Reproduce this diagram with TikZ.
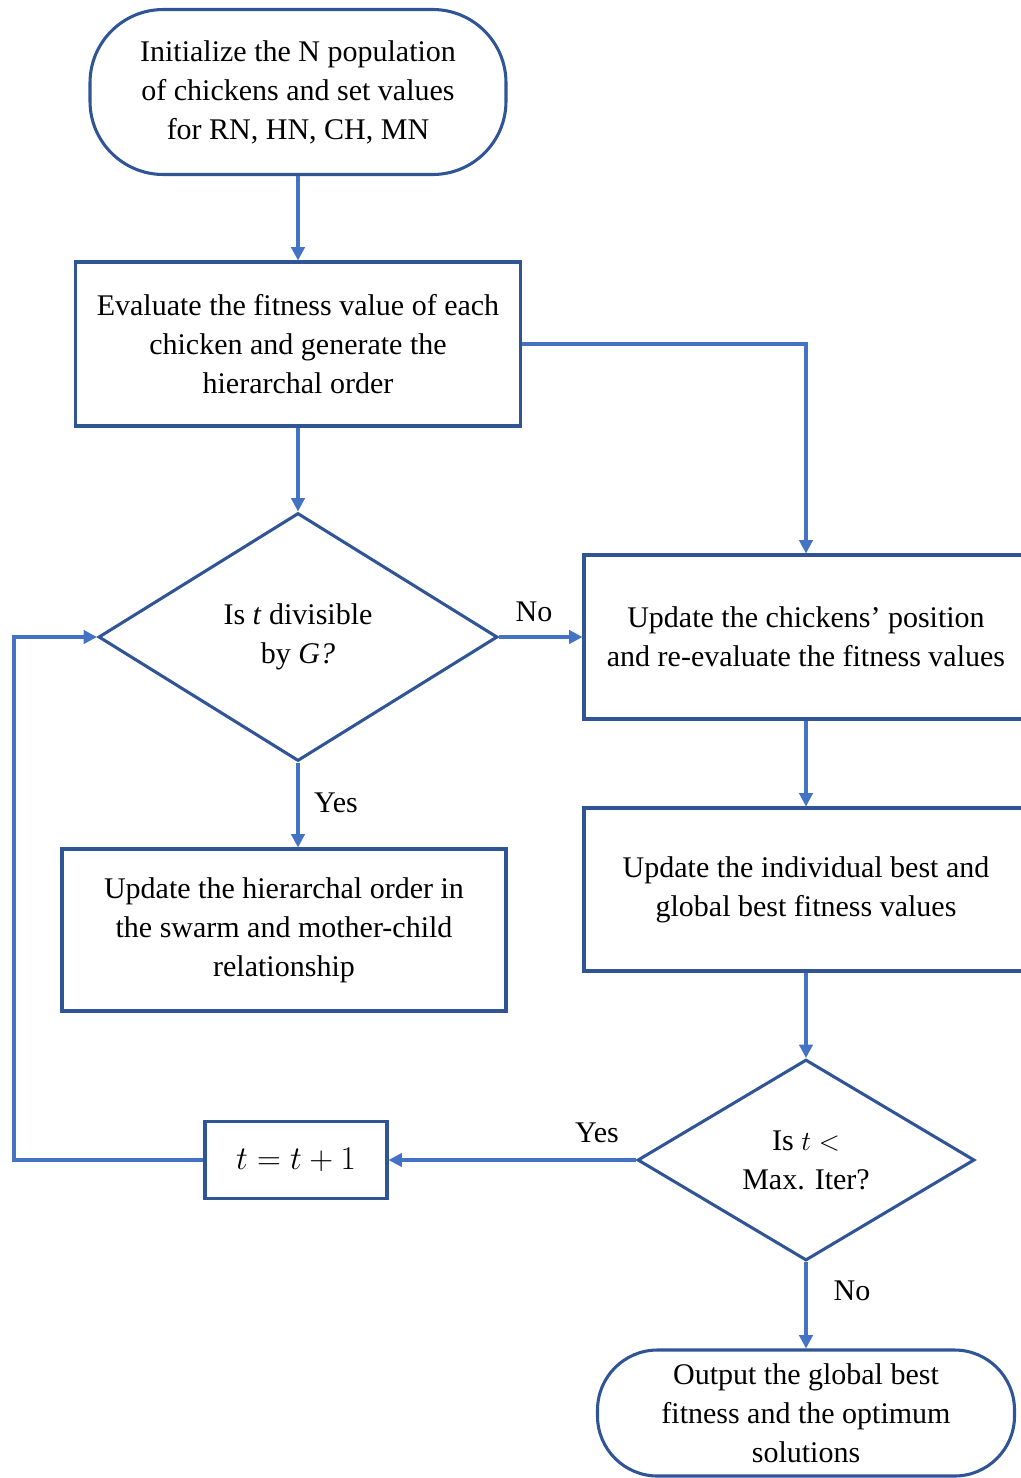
\documentclass[tikz,border=0pt]{standalone}
\usepackage{fontspec}
\setmainfont{Liberation Serif}
\usetikzlibrary{arrows.meta,shapes.geometric}

\definecolor{boxblue}{RGB}{47,85,151}
\definecolor{lineblue}{RGB}{68,114,196}

\tikzset{
  flowtext/.style={font=\fontsize{22.5pt}{29.25pt}\selectfont, align=center, inner sep=0pt},
  terminal/.style={flowtext, draw=boxblue, line width=2.3pt, rectangle, rounded corners=#1},
  procbox/.style={flowtext, draw=boxblue, line width=2.3pt, rectangle},
  decision/.style={flowtext, draw=boxblue, line width=2.3pt, diamond, aspect=1.6},
  flowline/.style={draw=lineblue, line width=2.3pt},
  flowarrow/.style={flowline, -{Triangle[length=10pt,width=10pt]}},
  answer/.style={font=\fontsize{22.5pt}{29.25pt}\selectfont, inner sep=0pt}
}

\begin{document}
\begin{tikzpicture}[x=0.75pt,y=0.75pt,yscale=-1,xscale=1]
\useasboundingbox (0,0) rectangle (1021,1478);

% Start
\node (init) [terminal=55pt, minimum width=312pt, minimum height=123.75pt] at (298,92)
  {Initialize the N population\\of chickens and set values\\for RN, HN, CH, MN};
% Process boxes
\node (eval) [procbox, minimum width=333.75pt, minimum height=123pt] at (298,344)
  {Evaluate the fitness value of each\\chicken and generate the\\hierarchal order};
\node (upd) [procbox, minimum width=333pt, minimum height=123pt] at (806,637)
  {Update the chickens’ position\\and re-evaluate the fitness values};
\node (best) [procbox, minimum width=333pt, minimum height=122.25pt] at (806,889.5)
  {Update the individual best and\\global best fitness values};
\node (hier) [procbox, minimum width=333pt, minimum height=121.5pt] at (284,930)
  {Update the hierarchal order in\\the swarm and mother-child\\relationship};
\node (inc) [procbox, minimum width=136.5pt, minimum height=57.75pt,
  font=\fontsize{26pt}{30pt}\selectfont] at (296,1160)
  {$t = t + 1$};
% Decisions
\node (div) [decision, minimum width=299.25pt, minimum height=186pt] at (298,637)
  {Is \textit{t} divisible\\by \textit{G?}};
\node (maxit) [decision, minimum width=252.75pt, minimum height=150.75pt] at (806,1160)
  {Is $t <$\\Max. Iter?};
% End
\node (final) [terminal=45pt, minimum width=312.75pt, minimum height=94.5pt] at (806,1413)
  {Output the global best\\fitness and the optimum\\solutions};

% Labels
\node (no1) [answer] at (534,612) {No};
\node (yes1) [answer] at (336,803) {Yes};
\node (yes2) [answer] at (597,1133) {Yes};
\node (no2) [answer] at (852,1291) {No};

\coordinate (loop) at (14,1160);

% Connectors
\draw [flowarrow] (init) -- (eval);
\draw [flowarrow] (eval) -- (div);
\draw [flowarrow] (eval.east) -| (upd.north);
\draw [flowarrow] (div.east) -- (upd.west);
\draw [flowarrow] (div.south) -- (div.south |- hier.north);
\draw [flowarrow] (upd) -- (best);
\draw [flowarrow] (best) -- (maxit);
\draw [flowarrow] (maxit.west) -- (inc.east);
\draw [flowarrow] (inc.west) -- (loop) |- (div.west);
\draw [flowarrow] (maxit.south) -- (final.north);

\end{tikzpicture}
\end{document}
